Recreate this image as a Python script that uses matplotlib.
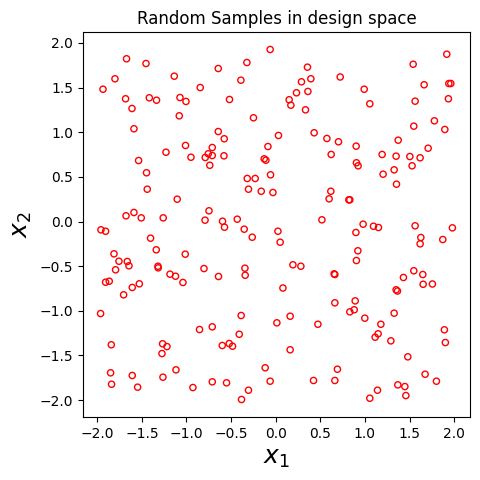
import numpy as np
import matplotlib
matplotlib.use("Agg")
import matplotlib.pyplot as plt


# sample points
x1 = [
    -1.672, -1.454, -1.802, -1.936, -1.137, -0.846, -1.683, -1.417, -1.336, -1.073,
    -1.006, -1.611, -1.081, -1.589, -1.011, -1.230, -1.537, -0.950, -0.790, -0.756,
    -0.711, -0.711, -0.739, -0.062, -0.323, -0.644, 0.356, -0.390, 0.289, 0.394,
    0.723, -0.518, 0.233, 0.361, 0.151, 0.170, 0.334, -0.249, -0.644, -0.577,
    0.031, 0.431, 0.574, 0.704, -0.087, -0.580, -0.129, -0.110, 0.622, 1.918,
    1.541, 0.992, 1.664, 1.941, 1.963, 1.055, 1.563, 1.936, 1.779, 1.548,
    1.896, 0.902, 1.373, 1.709, 1.193, 1.350, 1.504, 1.619, 0.905, 1.529,
    -1.448, -1.440, -1.104, -0.748, -0.792, -1.678, -1.589, -1.507, -1.261, -1.959,
    -1.907, -1.403, -1.339, -1.813, -1.014, -1.757, -1.664, -1.645, -1.320, -1.317,
    -1.795, -0.804, -1.185, -1.123, -1.040, -1.907, -1.866, -1.608, -1.529, -0.319,
    -0.230, -0.058, -0.305, -0.162, -0.031, 0.618, 0.599, -0.596, -0.574, -0.431,
    -0.353, -0.263, 0.025, 0.050, 0.518, -0.641, -0.345, -0.342, 0.193, 0.282,
    0.655, 0.663, 0.081, 0.924, 1.328, 1.204, 1.354, 0.820, 0.831, 0.980,
    1.096, 1.152, 0.899, 1.563, 1.981, 1.627, 1.619, 1.873, 0.921, 0.905,
    1.548, 1.649, 1.432, 1.653, 1.757, 1.350, 1.365, -1.705, -1.963, -0.854,
    -0.711, -1.843, -1.268, -1.219, -1.275, -1.851, -1.608, -1.264, -1.118, -1.840,
    -1.548, -0.928, -0.711, 0.663, -0.387, 0.162, 0.013, 0.473, -0.409, -0.599,
    -0.521, -0.484, 0.162, -0.118, 0.692, -0.551, -0.062, 0.424, 0.663, -0.305,
    -0.383, 0.891, 0.831, 0.880, 0.999, 1.328, 1.179, 1.115, 1.148, 1.291,
    1.891, 1.902, 1.481, 1.675, 1.802, 1.369, 1.448, 1.141, 1.055, 1.459,
]
x2 = [
    1.823, 1.770, 1.599, 1.482, 1.628, 1.501, 1.375, 1.386, 1.359, 1.389,
    1.345, 1.266, 1.184, 1.039, 0.852, 0.776, 0.683, 0.720, 0.717, 0.759,
    0.829, 0.739, 0.630, 1.927, 1.781, 1.714, 1.729, 1.583, 1.565, 1.599,
    1.619, 1.367, 1.442, 1.457, 1.364, 1.303, 1.251, 1.162, 1.008, 0.927,
    0.964, 0.994, 0.930, 0.893, 0.840, 0.736, 0.702, 0.687, 0.751, 1.874,
    1.762, 1.482, 1.532, 1.546, 1.546, 1.319, 1.348, 1.375, 1.128, 1.068,
    1.031, 0.844, 0.911, 0.821, 0.751, 0.732, 0.728, 0.714, 0.658, 0.624,
    0.546, 0.362, 0.250, 0.120, 0.015, 0.064, 0.101, 0.041, 0.041, -0.093,
    -0.109, -0.187, -0.317, -0.362, -0.366, -0.445, -0.448, -0.496, -0.501, -0.519,
    -0.541, -0.527, -0.590, -0.613, -0.683, -0.680, -0.669, -0.739, -0.698, 0.482,
    0.482, 0.523, 0.362, 0.339, 0.325, 0.339, 0.254, 0.003, -0.064, 0.026,
    -0.086, -0.176, -0.109, -0.232, 0.019, -0.616, -0.523, -0.602, -0.485, -0.501,
    -0.586, -0.594, -0.745, 0.624, 0.579, 0.530, 0.418, 0.243, 0.243, -0.030,
    -0.053, -0.067, -0.123, -0.048, -0.071, -0.179, -0.250, -0.202, -0.328, -0.437,
    -0.552, -0.594, -0.627, -0.703, -0.700, -0.765, -0.779, -0.821, -1.031, -1.210,
    -1.180, -1.381, -1.370, -1.401, -1.479, -1.695, -1.725, -1.744, -1.662, -1.823,
    -1.856, -1.860, -1.796, -0.911, -1.053, -1.061, -1.135, -1.151, -1.263, -1.389,
    -1.367, -1.397, -1.437, -1.639, -1.655, -1.807, -1.789, -1.781, -1.781, -1.890,
    -1.994, -0.889, -1.012, -0.989, -1.083, -1.027, -1.151, -1.296, -1.258, -1.337,
    -1.213, -1.356, -1.516, -1.711, -1.789, -1.830, -1.849, -1.890, -1.980, -1.950,
]

fig = plt.figure(figsize=(4.8, 4.8), dpi=100)
ax = fig.add_axes([83 / 480, 63 / 480, 387 / 480, 385 / 480])

ax.scatter(x1, x2, s=20, facecolors="none", edgecolors="r", linewidths=1.0)

ax.set_xticks(np.arange(-2.0, 2.01, 0.5))
ax.set_yticks(np.arange(-2.0, 2.01, 0.5))

ax.set_title("Random Samples in design space")
ax.set_xlabel(r"$x_1$", fontsize=18)
ax.set_ylabel(r"$x_2$", fontsize=18)

fig.savefig("out.png", dpi=100)
